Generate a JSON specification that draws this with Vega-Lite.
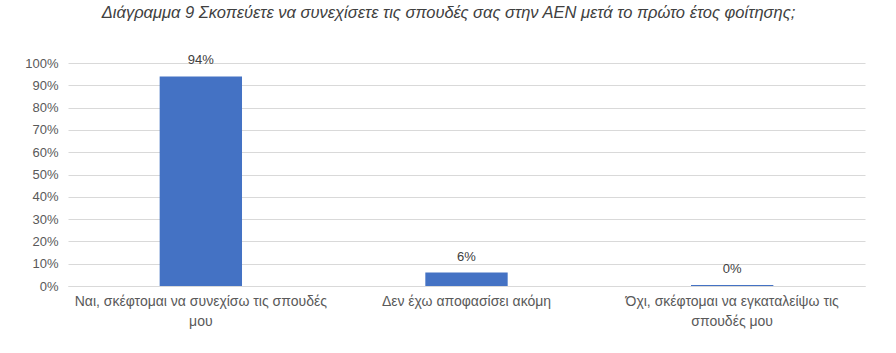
{
  "$schema": "https://vega.github.io/schema/vega-lite/v6.json",
  "autosize": "none",
  "width": 797,
  "height": 223,
  "padding": {"left": 68, "top": 63, "right": 31, "bottom": 67},
  "background": "white",
  "title": {
    "text": "Διάγραμμα 9 Σκοπεύετε να συνεχίσετε τις σπουδές σας στην ΑΕΝ μετά το πρώτο έτος φοίτησης;",
    "font": "Liberation Sans",
    "fontStyle": "italic",
    "fontWeight": "normal",
    "fontSize": 16.5,
    "color": "#404040",
    "anchor": "middle",
    "dx": -18,
    "offset": 33
  },
  "data": {
    "values": [
      {"category": "Ναι, σκέφτομαι να συνεχίσω τις σπουδές|μου", "value": 0.94},
      {"category": "Δεν έχω αποφασίσει ακόμη", "value": 0.06},
      {"category": "Όχι, σκέφτομαι να εγκαταλείψω τις|σπουδές μου", "value": 0.004}
    ]
  },
  "config": {
    "view": {"stroke": null},
    "font": "Liberation Sans"
  },
  "encoding": {
    "x": {
      "field": "category",
      "type": "nominal",
      "sort": null,
      "scale": {"paddingInner": 0, "paddingOuter": 0},
      "axis": {
        "title": null,
        "labelAngle": 0,
        "labelExpr": "split(datum.label, '|')",
        "labelLimit": 320,
        "labelFontSize": 14,
        "labelColor": "#595959",
        "labelPadding": 8,
        "labelLineHeight": 20,
        "ticks": false,
        "domain": true,
        "domainColor": "#d9d9d9",
        "labelFont": "Liberation Sans"
      }
    },
    "y": {
      "field": "value",
      "type": "quantitative",
      "scale": {"domain": [0, 1]},
      "axis": {
        "title": null,
        "format": ".0%",
        "values": [0, 0.1, 0.2, 0.3, 0.4, 0.5, 0.6, 0.7, 0.8, 0.9, 1],
        "labelOverlap": false,
        "labelFontSize": 13,
        "labelColor": "#595959",
        "labelPadding": 10,
        "ticks": false,
        "domain": false,
        "gridColor": "#d9d9d9",
        "labelFont": "Liberation Sans"
      }
    }
  },
  "layer": [
    {
      "mark": {"type": "bar", "color": "#4472c4", "width": {"band": 0.31}}
    },
    {
      "mark": {"type": "text", "dy": -9, "fontSize": 13, "color": "#404040", "baseline": "bottom"},
      "encoding": {
        "text": {"field": "value", "type": "quantitative", "format": ".0%"}
      }
    }
  ]
}
